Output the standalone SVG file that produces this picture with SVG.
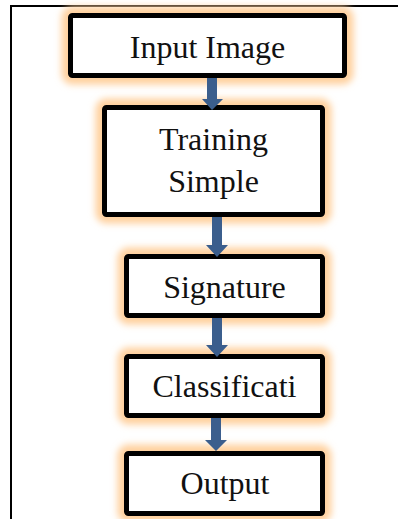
<svg xmlns="http://www.w3.org/2000/svg" width="398" height="519" viewBox="0 0 398 519">
<defs>
<filter id="glow" x="-20%" y="-40%" width="140%" height="180%">
<feGaussianBlur stdDeviation="3.5"/>
</filter>
<style>
.g{fill:none;stroke:#FFD09E;stroke-width:18;filter:url(#glow)}
.b{fill:#fff;stroke:#000;stroke-width:5}
.t{font-family:"Liberation Serif","Times New Roman",serif;font-size:32px;fill:#111;text-anchor:middle}
.a{fill:#3B5E8D}
</style>
</defs>
<rect width="398" height="519" fill="#fff"/>
<g id="frame" stroke="#000" stroke-width="2">
<line x1="11" y1="6" x2="398" y2="6"/>
<line x1="11" y1="5" x2="11" y2="519"/>
</g>
<g id="n1">
<rect class="g" x="70.5" y="15.5" width="274" height="60" rx="2"/>
<rect class="b" x="70.5" y="15.5" width="274" height="60" rx="2"/>
<text class="t" x="207.5" y="58">Input Image</text>
</g>
<g id="n2">
<rect class="g" x="104.5" y="107.5" width="218" height="107" rx="2"/>
<rect class="b" x="104.5" y="107.5" width="218" height="107" rx="2"/>
<text class="t" x="213.5" y="150">Training</text>
<text class="t" x="213.5" y="192">Simple</text>
</g>
<g id="n3">
<rect class="g" x="126.5" y="256.5" width="196" height="59" rx="2"/>
<rect class="b" x="126.5" y="256.5" width="196" height="59" rx="2"/>
<text class="t" x="224.5" y="298">Signature</text>
</g>
<g id="n4">
<rect class="g" x="126.5" y="356.5" width="196" height="59" rx="2"/>
<rect class="b" x="126.5" y="356.5" width="196" height="59" rx="2"/>
<text class="t" x="224.5" y="397">Classificati</text>
</g>
<g id="n5">
<rect class="g" x="126.5" y="453.5" width="196" height="60" rx="2"/>
<rect class="b" x="126.5" y="453.5" width="196" height="60" rx="2"/>
<text class="t" x="225" y="494">Output</text>
</g>
<g id="connectors">
<polygon class="a" points="207,78 217,78 217,99 223,99 212,110 202,99 207,99"/>
<polygon class="a" points="212,217 222,217 222,245 228,245 217,257 206,245 212,245"/>
<polygon class="a" points="212,318 222,318 222,345 228,345 217,357 206,345 212,345"/>
<polygon class="a" points="211,418 221,418 221,440 227,440 216,451 205,440 211,440"/>
</g>
</svg>
